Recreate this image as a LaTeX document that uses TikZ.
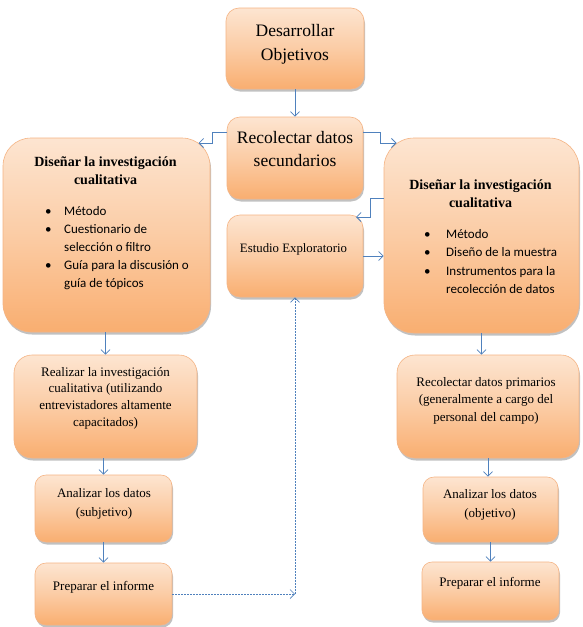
\documentclass[tikz,border=0pt]{standalone}
\usepackage{fontspec}
\setmainfont{Liberation Serif}
\newfontfamily\calib{Carlito}
\usetikzlibrary{arrows.meta,shadows}
\definecolor{arrblue}{HTML}{4F81BD}
\definecolor{boxtop}{HTML}{FDE5D1}
\definecolor{boxmid}{HTML}{FBCCA5}
\definecolor{boxbot}{HTML}{F9AE70}
\definecolor{boxline}{HTML}{F5B484}
\tikzset{
  box/.style={rectangle, draw=boxline, line width=0.6pt,
    top color=boxtop, bottom color=boxbot, middle color=boxmid,
    drop shadow={shadow xshift=1pt, shadow yshift=-2.5pt, opacity=0.4, fill=black!60},
    inner sep=0pt},
  sz/.style 2 args={minimum width=#1pt, minimum height=#2pt},
  txt/.style={inner sep=0pt, align=center},
  lst/.style={inner sep=0pt, anchor=base west, font=\calib\fontsize{13}{18.2}\selectfont},
  arr/.style={draw=arrblue, line width=0.8pt, -{Straight Barb[length=4.5pt,width=9pt]}},
  dsh/.style={draw=arrblue, line width=0.7pt, dash pattern=on 2pt off 1pt, -{Straight Barb[length=4.5pt,width=9pt]}}
}
\begin{document}
\begin{tikzpicture}[x=1pt,y=-1pt]
\fill[white] (0,0) rectangle (583,627);
\useasboundingbox (0,0) rectangle (583,627);

% boxes
\node[box, sz={138}{81}, rounded corners=13pt] (b1) at (295,48.5) {};
\node[box, sz={136}{82}, rounded corners=13pt] (b2) at (295,158) {};
\node[box, sz={207}{194}, rounded corners=28pt] (b3) at (106.5,235) {};
\node[box, sz={136}{82}, rounded corners=13pt] (b4) at (295,256) {};
\node[box, sz={195}{195}, rounded corners=30pt] (b5) at (481.5,235.5) {};
\node[box, sz={183}{103}, rounded corners=18pt] (b6) at (105.5,406.5) {};
\node[box, sz={137}{67}, rounded corners=11pt] (b7) at (103.5,508.5) {};
\node[box, sz={137}{62}, rounded corners=11pt] (b8) at (103.5,594) {};
\node[box, sz={182}{103}, rounded corners=18pt] (b9) at (488,406.5) {};
\node[box, sz={135}{65}, rounded corners=11pt] (b10) at (490.5,509.5) {};
\node[box, sz={137}{58}, rounded corners=10pt] (b11) at (490.5,591) {};

% texts
\node[txt, font=\fontsize{17.5}{24}\selectfont] (t1) at (295,44) {Desarrollar\\Objetivos};
\node[txt, font=\fontsize{17.5}{23}\selectfont] (t2) at (295,149) {Recolectar datos\\secundarios};
\node[txt, font=\bfseries\fontsize{14}{18}\selectfont] (t3) at (105.5,171) {Diseñar la investigación\\cualitativa};
\node[lst] (l3) at (45,215) {\begin{tabular}[t]{@{}p{19pt}@{}l@{}}
\textbullet & Método\\
\textbullet & Cuestionario de\\
 & selección o filtro\\
\textbullet & Guía para la discusión o\\
 & guía de tópicos
\end{tabular}};
\node[txt, font=\fontsize{12.8}{15}\selectfont] (t4) at (293.5,249) {Estudio Exploratorio};
\node[txt, font=\bfseries\fontsize{14}{18}\selectfont] (t5) at (480.5,194) {Diseñar la investigación\\cualitativa};
\node[lst, font=\calib\fontsize{13}{18.5}\selectfont] (l5) at (424,238) {\begin{tabular}[t]{@{}p{22pt}@{}l@{}}
\textbullet & Método\\
\textbullet & Diseño de la muestra\\
\textbullet & Instrumentos para la\\
 & recolección de datos
\end{tabular}};
\node[txt, font=\fontsize{13}{16.7}\selectfont] (t6) at (105.5,398) {Realizar la investigación\\cualitativa (utilizando\\entrevistadores altamente\\capacitados)};
\node[txt, font=\fontsize{13}{19}\selectfont] (t7) at (104,503.5) {Analizar los datos\\(subjetivo)};
\node[txt, font=\fontsize{13}{16}\selectfont] (t8) at (103.5,587) {Preparar el informe};
\node[txt, font=\fontsize{13}{17.5}\selectfont] (t9) at (486,400.5) {Recolectar datos primarios\\(generalmente a cargo del\\personal del campo)};
\node[txt, font=\fontsize{13}{19}\selectfont] (t10) at (490,504.5) {Analizar los datos\\(objetivo)};
\node[txt, font=\fontsize{13}{16}\selectfont] (t11) at (490,583) {Preparar el informe};

% helper coordinates
\coordinate (k1) at (212,132);
\coordinate (e1) at (198.5,143);
\coordinate (k2) at (380,132);
\coordinate (e2) at (396.5,143);
\coordinate (k3) at (370,198);
\coordinate (e3) at (356,217);
\coordinate (k4) at (295,594);

% connectors
\draw[arr] (b1.south) -- (b2.north);
\draw[arr] (b2.west |- k1) -- (k1) |- (e1);
\draw[arr] (b2.east |- k2) -- (k2) |- (e2);
\draw[arr] (b5.west |- k3) -- (k3) |- (e3);
\draw[arr] (b4.east) -- (b4.east -| b5.west);
\draw[arr] (b6.north |- b3.south) -- (b6.north);
\draw[arr] (b7.north |- b6.south) -- (b7.north);
\draw[arr] (b7.south) -- (b8.north);
\draw[arr] (b5.south) -- (b5.south |- b9.north);
\draw[arr] (b9.south) -- (b9.south |- b10.north);
\draw[arr] (b10.south) -- (b10.south |- b11.north);
\draw[dsh] (b8.east) -- (k4);
\draw[dsh] (k4) -- (b4.south);
\end{tikzpicture}
\end{document}
